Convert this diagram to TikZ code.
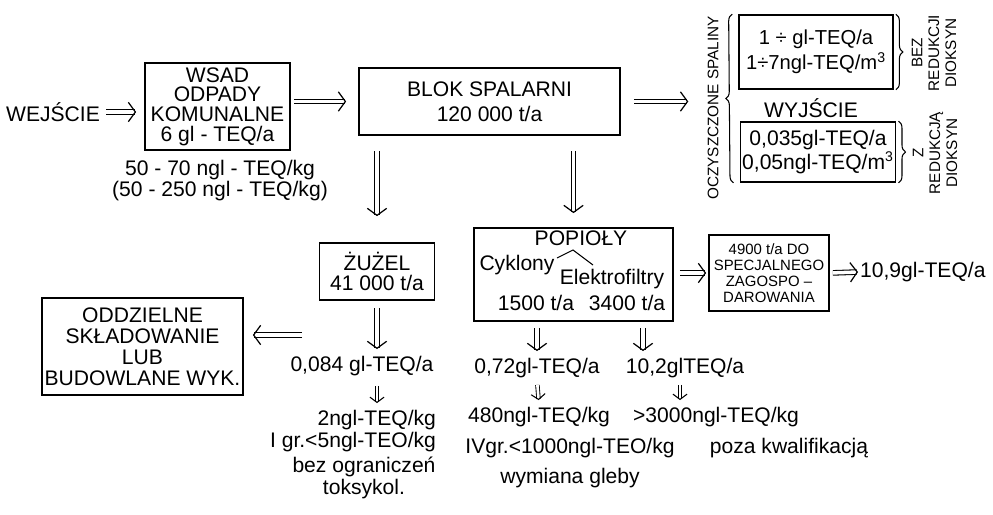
\documentclass[tikz,border=0pt]{standalone}
\usepackage{fontspec}
\setmainfont{Liberation Sans}
\usetikzlibrary{arrows.meta, positioning, decorations.pathreplacing}
\tikzset{
    block_plain/.style={rectangle, draw, line width=1pt, inner sep=1pt, align=center, font=\fontsize{12}{11.2}\selectfont},
    note/.style={inner sep=1pt, align=center, font=\fontsize{12}{12.5}\selectfont},
    note_rot/.style={rotate=90, inner sep=0pt, align=center, font=\fontsize{8.7}{9.6}\selectfont},
    arrow_dbl/.style={double, double distance=2pt, line width=0.6pt, -{Straight Barb[length=4pt, width=11pt, line width=0.7pt]}},
    arrow_dbl_small/.style={double, double distance=1.5pt, line width=0.5pt, -{Straight Barb[length=3pt, width=8pt, line width=0.6pt]}},
    curly/.style={decorate, decoration={brace, amplitude=4pt}, line width=0.6pt}
}
\begin{document}
\begin{tikzpicture}[x=0.02cm, y=-0.02cm]
    \useasboundingbox (0,0) rectangle (993,514);

    % Input
    \node (wej) [note, anchor=east] at (102,112) {WEJŚCIE};
    \node (wsad) [block_plain, minimum width=2.9cm, minimum height=1.74cm] at (217.5,106.5) {WSAD\\ODPADY\\KOMUNALNE\\6 gl - TEQ/a};
    \node (wsadkg) [note, font=\fontsize{12}{12}\selectfont] at (220,181) {50 - 70 ngl - TEQ/kg\\(50 - 250 ngl - TEQ/kg)};
    \draw [arrow_dbl, shorten <=0.08cm, shorten >=0.16cm] (wej.east) -- (wej.east -| wsad.west);

    % Incinerator
    \node (blok) [block_plain, minimum width=5.22cm, minimum height=1.34cm, font=\fontsize{12}{14.2}\selectfont] at (489.5,101.5) {BLOK SPALARNI\\120 000 t/a};
    \draw [arrow_dbl, shorten <=0.06cm, shorten >=0.24cm] (wsad.east |- blok.west) -- (blok.west);

    % Flue gas output
    \node (ocz) [note_rot] at (713,108) {OCZYSZCZONE SPALINY};
    \node (bez) [block_plain, minimum width=3.08cm, minimum height=1.48cm, font=\fontsize{11.5}{14.2}\selectfont] at (816,52) {1 ÷ gl-TEQ/a\\1÷7ngl-TEQ/m\textsuperscript{3}};
    \node (wyj) [note] at (811,108) {WYJŚCIE};
    \node (zred) [block_plain, minimum width=3.08cm, minimum height=1.2cm, font=\fontsize{12}{11.9}\selectfont] at (818,152) {0,035gl-TEQ/a\\0,05ngl-TEQ/m\textsuperscript{3}};
    \draw [curly] ([xshift=-0.12cm]zred.south west) -- ([xshift=-0.12cm]bez.north west);
    \draw [curly] ([xshift=0.04cm]bez.north east) -- ([xshift=0.04cm]bez.south east);
    \draw [curly] ([xshift=0.04cm]zred.north east) -- ([xshift=0.04cm]zred.south east);
    \node (bezred) [note_rot] at (934,53) {BEZ\\REDUKCJI\\DIOKSYN};
    \node (zredtxt) [note_rot] at (935,153) {Z\\REDUKCJĄ\\DIOKSYN};
    \draw [arrow_dbl, shorten <=0.26cm, shorten >=0.38cm] (blok.east) -- (blok.east -| ocz.north);

    % Slag
    \node (zuzel) [block_plain, minimum width=2.3cm, minimum height=1.14cm, font=\fontsize{12}{11.4}\selectfont] at (377,271.5) {ŻUŻEL\\41 000 t/a};
    \draw [arrow_dbl, shorten <=0.3cm, shorten >=0.52cm] (zuzel.north |- blok.south) -- (zuzel.north);
    \node (z084) [note] at (362,366) {0,084 gl-TEQ/a};
    \draw [arrow_dbl, shorten <=0.14cm, shorten >=0.1cm] (zuzel.south) -- (zuzel.south |- z084.north);
    \node (z2ngl) [note, anchor=east, align=right] at (438,431) {2ngl-TEQ/kg\\I gr.<5ngl-TEO/kg};
    \draw [arrow_dbl_small, shorten <=0.16cm, shorten >=0.1cm] (zuzel.south |- z084.south) -- (zuzel.south |- z2ngl.north);
    \node (ztox) [note, font=\fontsize{12}{12.8}\selectfont] at (364,478) {bez ograniczeń\\toksykol.};

    \node (oddz) [block_plain, minimum width=4.02cm, minimum height=1.94cm, font=\fontsize{12}{12}\selectfont] at (142.5,346.5) {ODDZIELNE\\SKŁADOWANIE\\LUB\\BUDOWLANE WYK.};
    \coordinate (zfree) at (302,335);
    \draw [arrow_dbl, shorten >=0.18cm] (zfree) -- (oddz.east |- zfree);

    % Ashes
    \node (popioly) [block_plain, minimum width=3.98cm, minimum height=1.86cm] at (573.5,274.5) {};
    \draw [arrow_dbl, shorten <=0.3cm, shorten >=0.28cm] (popioly.north |- blok.south) -- (popioly.north);
    \node (pop_t) [note] at (581,238) {POPIOŁY};
    \node (cykl) [note] at (517,265) {Cyklony};
    \node (elek) [note] at (612,279) {Elektrofiltry};
    \draw [line width=0.6pt] (557,258) -- (573,250) -- (593,265);
    \node (pop_c) [note] at (536,303) {1500 t/a};
    \node (pop_e) [note] at (627,303) {3400 t/a};

    \node (b4900) [block_plain, inner sep=0pt, minimum width=2.4cm, minimum height=1.52cm, font=\fontsize{8.5}{9}\selectfont] at (769,273) {4900 t/a DO\\SPECJALNEGO\\ZAGOSPO –\\DAROWANIA};
    \draw [arrow_dbl, shorten <=0.12cm, shorten >=0.04cm] (popioly.east |- b4900.west) -- (b4900.west);
    \node (t109) [note, anchor=west] at (858,272) {10,9gl-TEQ/a};
    \draw [arrow_dbl, shorten <=0.06cm] (b4900.east) -- (t109.west);

    \node (t072) [note] at (537,368) {0,72gl-TEQ/a};
    \node (t102) [note] at (685,368) {10,2glTEQ/a};
    \coordinate (p102) at ([xshift=-0.84cm]t102.north);
    \draw [arrow_dbl, shorten <=0.12cm, shorten >=0.1cm] (popioly.south -| t072.north) -- (t072.north);
    \draw [arrow_dbl, shorten <=0.12cm, shorten >=0.1cm] (popioly.south -| p102) -- (p102);

    \node (t480) [note] at (539,417) {480ngl-TEQ/kg};
    \node (t3000) [note] at (716,417) {>3000ngl-TEQ/kg};
    \draw [arrow_dbl_small, shorten <=0.1cm, shorten >=0.1cm] (t072.south) -- (t480.north);
    \draw [arrow_dbl_small, shorten <=0.1cm, shorten >=0.1cm] ([xshift=-0.1cm]t102.south) -- ([xshift=-0.1cm]t102.south |- t3000.north);
    \node (t1000) [note] at (570,448) {IVgr.<1000ngl-TEO/kg};
    \node (tpoza) [note] at (789,448) {poza kwalifikacją};
    \node (tgleby) [note] at (570,478) {wymiana gleby};
\end{tikzpicture}
\end{document}
